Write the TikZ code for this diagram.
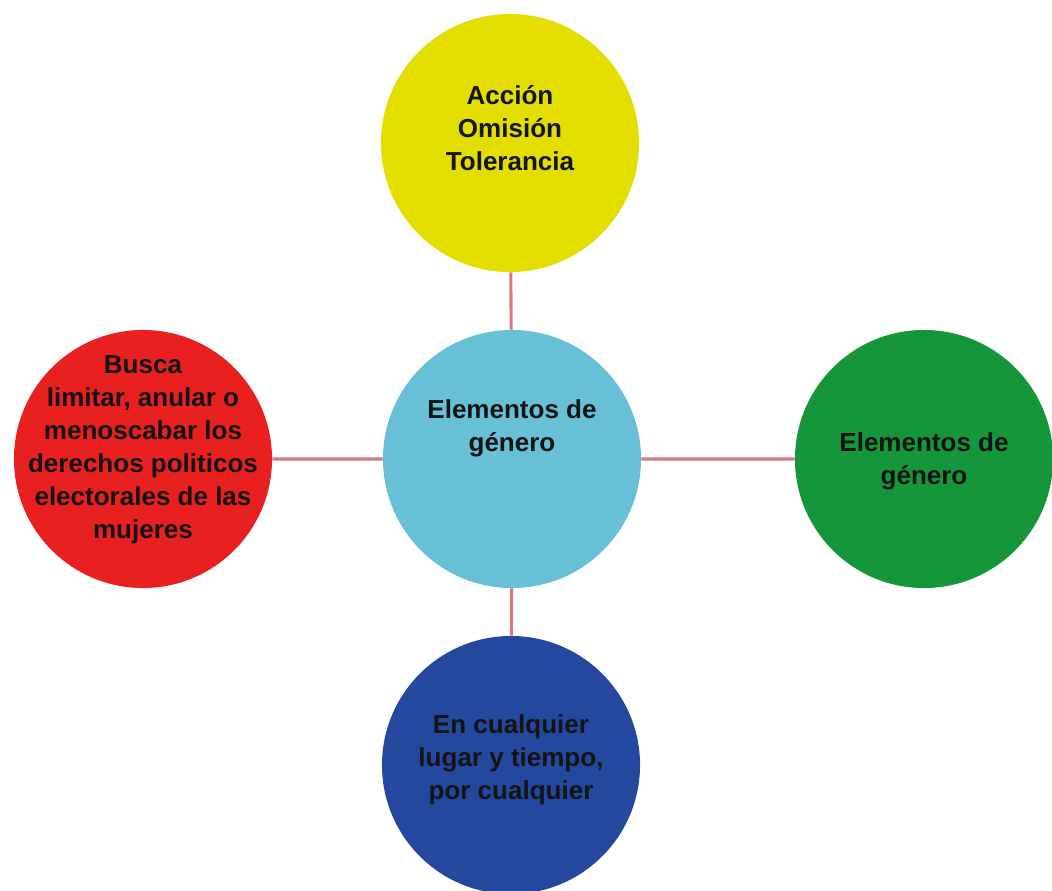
\documentclass[tikz,border=0pt]{standalone}
\usepackage{fontspec}
\setmainfont{Liberation Sans}
\definecolor{amarillo}{HTML}{E3DE00}
\definecolor{celeste}{HTML}{67C0D5}
\definecolor{rojo}{HTML}{E8201F}
\definecolor{verde}{HTML}{15963B}
\definecolor{azul}{HTML}{24489E}
\definecolor{enlace}{HTML}{D8777F}
\definecolor{letra}{HTML}{141414}
\begin{document}
\begin{tikzpicture}[x=0.025cm,y=-0.025cm]
\tikzstyle{disc}=[circle,minimum size=6.45cm,inner sep=0pt];
\tikzstyle{txt}=[align=center,text=letra,font=\fontsize{18.5}{23.5}\selectfont\bfseries];
\tikzstyle{link}=[enlace,line width=2.2pt];
\useasboundingbox (0,0) rectangle (1052,890);
\path (512,459) node[disc,fill=celeste] (centro) {};
\path (510,143) node[disc,fill=amarillo] (accion) {};
\path (143,459) node[disc,fill=rojo] (busca) {};
\path (924,459) node[disc,fill=verde] (elementos) {};
\path (511,765) node[disc,fill=azul] (lugar) {};
\draw[link] (accion) -- (centro)
(busca) -- (centro)
(centro) -- (elementos)
(centro) -- (lugar);
% textos
\path (512,428) node[txt] (centro-t) {Elementos de\\género};
\path (510,128) node[txt] (accion-t) {Acción\\Omisión\\Tolerancia};
\path (143,450) node[txt] (busca-t) {Busca\\limitar, anular o\\menoscabar los\\derechos politicos\\electorales de las\\mujeres};
\path (924,461) node[txt] (elementos-t) {Elementos de\\género};
\path (511,760) node[txt] (lugar-t) {En cualquier\\lugar y tiempo,\\por cualquier};
\end{tikzpicture}
\end{document}
